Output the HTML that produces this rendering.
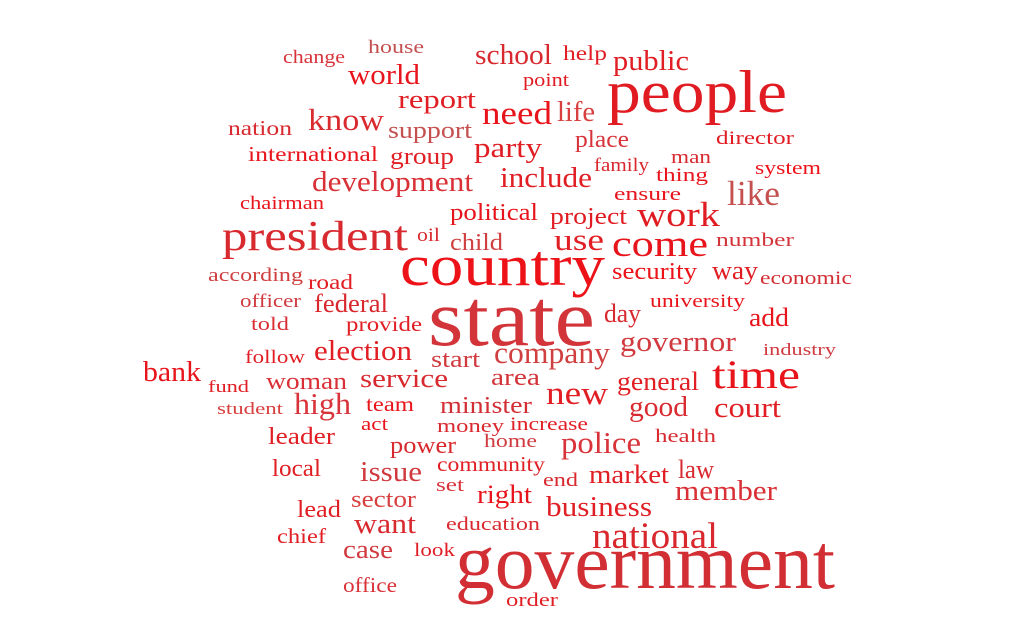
<!DOCTYPE html>
<html><head><meta charset="utf-8"><style>
html,body{margin:0;padding:0;background:#fff;width:1024px;height:634px;overflow:hidden}
svg text{font-family:"Liberation Serif",serif}
</style></head><body>
<svg id="cloud" width="1024" height="634" viewBox="0 0 1024 634"></svg>
<script>
const words=["government","state","country","people","president","time","national","come","work","new","like","police","need","know","company","governor","development","include","use","life","party","school","public","world","report","business","member","court","good","general","election","service","high","issue","market","law","right","want","case","bank","minister","area","security","way","day","add","federal","political","project","group","support","place","international","nation","child","start","woman","leader","local","sector","lead","power","community","team","provide","road","office","chief","education","look","order","end","set","home","increase","money","act","health","industry","university","economic","number","system","director","man","thing","family","ensure","point","help","house","change","chairman","oil","according","officer","told","follow","fund","student"];
const weights=[78,80,58,60,42,40,34,34,32,30,32,28,30,28,28,26,26,26,28,26,26,26,26,26,24,26,26,26,26,24,26,24,28,26,24,24,24,26,24,26,22,22,22,24,24,24,24,22,22,22,22,22,20,20,22,22,22,22,22,22,22,22,20,20,20,20,20,20,18,18,18,18,18,18,18,18,18,18,16,18,18,18,18,18,18,18,18,18,18,20,18,18,18,18,18,18,18,18,16,16];
const xl=[455,428,400,607,222,712,592,612,637,546,727,561,482,308,494,620,312,500,554,557,474,475,613,348,398,546,675,714,629,617,314,360,294,360,589,678,477,354,343,143,440,491,612,712,604,749,314,450,550,390,388,575,248,228,450,431,266,268,272,351,297,390,437,366,346,308,343,277,446,414,506,543,436,484,510,437,361,655,763,650,760,716,755,716,671,656,594,614,523,563,368,283,240,417,208,240,251,245,208,217];
const xr=[835,595,605,787,408,800,718,708,720,608,780,641,552,384,610,736,473,592,604,595,542,552,689,420,476,652,777,781,688,699,412,448,351,422,669,714,532,416,393,201,532,540,697,758,641,789,388,538,627,454,472,629,378,292,503,480,347,335,321,416,341,456,545,414,422,353,397,326,540,455,558,578,464,537,588,504,388,716,836,745,852,794,821,794,711,708,649,681,569,607,424,345,324,440,303,301,289,305,249,283];
const base=[588,345,285,112,250,388,548,256,226,404,205,453,124,130,363,351,191,187,250,121,157,64,70,84,108,516,500,417,416,390,360,387,414,481,483,478,503,533,558,381,413,385,279,279,322,326,312,220,224,164,138,147,161,135,250,367,389,444,476,507,517,453,471,411,331,289,592,543,530,556,606,486,491,447,430,432,430,442,355,307,284,246,174,144,163,181,171,200,86,60,53,63,209,241,281,307,330,363,392,414];
const palette=["#d22f35","#d2343a","#ec1218","#e01b22","#d8292f","#e8141c","#d8272d","#e8141c","#e01c22","#e01e24","#c45050","#d8333a","#e8141c","#d92a30","#d04040","#d03a3f","#d83036","#e01e24","#e01e24","#d84040","#e01e24","#d8292f","#e01e24","#e8141c","#e01e24","#e01e24","#d83036","#e01e24","#d82a30","#e01e24","#e01e24","#d8292f","#d8333a","#d03a3f","#e01e24","#d8292f","#e8141c","#d8292f","#d03a3f","#e8141c"];
const svg=document.getElementById('cloud');
const NS='http://www.w3.org/2000/svg';
words.forEach((w,i)=>{
  const t=document.createElementNS(NS,'text');
  
  
  t.setAttribute('x',xl[i]);
  t.setAttribute('y',base[i]);
  t.setAttribute('font-size',weights[i]<40?weights[i]*1.08:weights[i]);
  t.setAttribute('textLength',xr[i]-xl[i]);
  t.setAttribute('lengthAdjust','spacingAndGlyphs');
  t.setAttribute('fill',palette[i%palette.length]);
  t.textContent=w;
  svg.appendChild(t);
});
</script>
</body></html>
